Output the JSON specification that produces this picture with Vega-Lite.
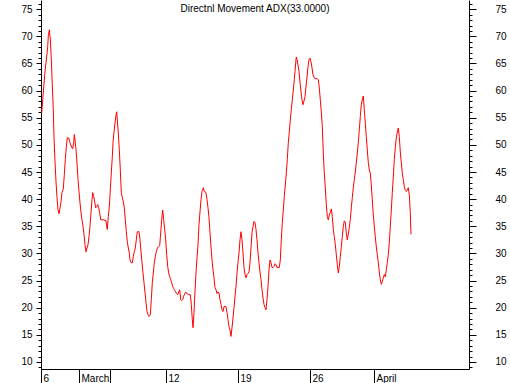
{
  "$schema": "https://vega.github.io/schema/vega-lite/v6.json",
  "width": 428,
  "height": 369,
  "autosize": {"type": "none"},
  "padding": {"left": 41, "top": 0, "right": 41, "bottom": 14},
  "background": "white",
  "config": {
    "view": {"stroke": null},
    "font": "Liberation Sans",
    "axis": {"domainColor": "black", "tickColor": "black", "labelColor": "black", "labelFont": "Liberation Sans", "labelFontSize": 10, "grid": false, "title": null, "labelOverlap": false, "labelFlush": false, "labelBound": false}
  },
  "title": {"text": "Directnl Movement ADX(33.0000)", "fontSize": 10, "fontWeight": "normal", "font": "Liberation Sans", "color": "black", "anchor": "middle", "offset": -15},
  "data": {"values": [
    {"t":0.7,"v":55.9},{"t":1.7,"v":58.3},{"t":2.7,"v":60.5},{"t":3.7,"v":62.9},{"t":4.7,"v":64.7},{"t":5.7,"v":66.2},{"t":6.7,"v":68.1},{"t":7.3,"v":70.1},{"t":8.3,"v":71.2},{"t":9.3,"v":69.5},
    {"t":10.3,"v":65.8},{"t":11.3,"v":61.1},{"t":12.3,"v":56.5},{"t":13,"v":51.5},{"t":14,"v":46.9},{"t":15,"v":43.2},{"t":16,"v":40.3},{"t":17,"v":38.0},{"t":18,"v":37.3},{"t":19,"v":38.4},
    {"t":20,"v":39.5},{"t":21,"v":41.2},{"t":22.3,"v":41.9},{"t":23.3,"v":44.5},{"t":24.3,"v":47.3},{"t":25.3,"v":49.6},{"t":26.3,"v":51.3},{"t":27.7,"v":51.3},{"t":28.7,"v":50.6},{"t":29.7,"v":50.0},
    {"t":30.7,"v":49.6},{"t":31.7,"v":49.3},{"t":32.7,"v":50.4},{"t":33.3,"v":51.9},{"t":34,"v":50.9},{"t":35,"v":49.1},{"t":36,"v":46.7},{"t":37,"v":43.6},{"t":38,"v":41.4},{"t":39,"v":39.3},
    {"t":40,"v":37.5},{"t":41,"v":36.2},{"t":42,"v":35.0},{"t":43,"v":33.5},{"t":44,"v":31.6},{"t":45,"v":30.3},{"t":46,"v":31.0},{"t":47,"v":31.6},{"t":48,"v":33.1},{"t":49,"v":35.0},
    {"t":50,"v":37.5},{"t":51,"v":39.9},{"t":51.7,"v":41.2},{"t":52.7,"v":40.5},{"t":53.7,"v":39.5},{"t":54.7,"v":38.4},{"t":55.7,"v":38.6},{"t":56.7,"v":39.0},{"t":57.7,"v":38.4},{"t":58.7,"v":37.5},
    {"t":59.7,"v":36.2},{"t":62.3,"v":36.2},{"t":65,"v":36.0},{"t":65.7,"v":35.0},{"t":66.3,"v":34.4},{"t":67.3,"v":36.8},{"t":68.3,"v":38.6},{"t":69.3,"v":41.7},{"t":70.3,"v":44.8},{"t":71.3,"v":47.8},
    {"t":72,"v":50.4},{"t":73,"v":52.4},{"t":74,"v":54.0},{"t":75,"v":55.5},{"t":75.7,"v":56.1},{"t":76.3,"v":54.6},{"t":77.3,"v":52.2},{"t":78.3,"v":49.1},{"t":79.3,"v":45.4},{"t":80.3,"v":41.2},
    {"t":81.3,"v":40.3},{"t":82.3,"v":39.5},{"t":83.3,"v":38.4},{"t":84.3,"v":36.2},{"t":85.3,"v":34.0},{"t":86.3,"v":32.2},{"t":87.3,"v":31.0},{"t":88.3,"v":30.1},{"t":89,"v":28.8},{"t":90,"v":28.3},
    {"t":91.3,"v":28.3},{"t":92.3,"v":29.4},{"t":93.3,"v":30.3},{"t":94.3,"v":31.0},{"t":95.3,"v":32.5},{"t":96.3,"v":34.0},{"t":98,"v":34.0},{"t":99,"v":32.5},{"t":100,"v":30.3},{"t":101,"v":28.3},
    {"t":102,"v":26.4},{"t":103,"v":24.6},{"t":104,"v":22.8},{"t":105,"v":20.9},{"t":106,"v":19.3},{"t":107,"v":18.7},{"t":108,"v":18.4},{"t":109.3,"v":18.7},{"t":110.3,"v":21.5},{"t":111.3,"v":24.6},
    {"t":112.3,"v":26.4},{"t":113.3,"v":28.3},{"t":114.3,"v":29.4},{"t":115.3,"v":30.3},{"t":116.3,"v":31.0},{"t":117.3,"v":31.2},{"t":118.7,"v":31.4},{"t":119.7,"v":33.8},{"t":120.7,"v":36.2},{"t":121.7,"v":38.0},
    {"t":122.7,"v":36.2},{"t":123.7,"v":34.4},{"t":124.7,"v":32.5},{"t":125.7,"v":29.8},{"t":126.7,"v":27.6},{"t":127.7,"v":26.4},{"t":128.7,"v":25.7},{"t":129.7,"v":25.2},{"t":130.7,"v":24.6},{"t":131.7,"v":23.9},
    {"t":132.7,"v":23.5},{"t":133.7,"v":23.2},{"t":134.7,"v":22.9},{"t":135.7,"v":22.6},{"t":136.7,"v":22.4},{"t":137.7,"v":22.9},{"t":138.7,"v":23.3},{"t":139.7,"v":21.5},{"t":140.7,"v":21.3},{"t":141.7,"v":21.5},
    {"t":142.7,"v":22.1},{"t":143.7,"v":22.6},{"t":144.7,"v":22.9},{"t":145.7,"v":22.6},{"t":147.7,"v":22.4},{"t":149.3,"v":22.4},{"t":150.3,"v":20.6},{"t":151.3,"v":17.8},{"t":152,"v":16.3},{"t":153,"v":19.1},
    {"t":154,"v":23.1},{"t":155,"v":26.4},{"t":156,"v":29.2},{"t":157,"v":31.6},{"t":158,"v":35.3},{"t":159,"v":37.7},{"t":160,"v":39.9},{"t":161,"v":41.4},{"t":162.3,"v":42.1},{"t":163.3,"v":41.4},
    {"t":165,"v":41.2},{"t":166,"v":39.9},{"t":167,"v":38.4},{"t":168,"v":36.6},{"t":169,"v":33.8},{"t":170,"v":31.2},{"t":171,"v":28.8},{"t":172,"v":27.0},{"t":173,"v":25.5},{"t":174,"v":23.7},
    {"t":175,"v":23.3},{"t":176,"v":22.6},{"t":177,"v":22.9},{"t":178,"v":22.7},{"t":179,"v":21.5},{"t":180,"v":20.6},{"t":181,"v":19.6},{"t":182,"v":19.3},{"t":183,"v":20.2},{"t":185,"v":20.2},
    {"t":186,"v":19.1},{"t":187,"v":17.8},{"t":188,"v":16.5},{"t":189,"v":15.9},{"t":190,"v":14.7},{"t":191,"v":16.3},{"t":192,"v":18.1},{"t":193,"v":20.0},{"t":194,"v":22.1},{"t":195,"v":23.9},
    {"t":196,"v":26.4},{"t":197,"v":28.3},{"t":198,"v":30.1},{"t":199,"v":32.5},{"t":200,"v":34.0},{"t":201,"v":32.5},{"t":202,"v":30.1},{"t":203,"v":27.4},{"t":204,"v":26.1},{"t":205,"v":25.5},
    {"t":206,"v":26.1},{"t":207,"v":26.3},{"t":208,"v":26.6},{"t":209,"v":28.3},{"t":210,"v":31.0},{"t":211,"v":33.8},{"t":212,"v":35.0},{"t":213,"v":35.9},{"t":214,"v":35.7},{"t":215,"v":34.4},
    {"t":216,"v":32.5},{"t":217,"v":30.1},{"t":218,"v":28.3},{"t":219,"v":26.6},{"t":220,"v":25.2},{"t":221,"v":23.3},{"t":222,"v":21.8},{"t":223,"v":20.6},{"t":224,"v":20.0},{"t":225,"v":19.6},
    {"t":226,"v":21.5},{"t":227,"v":23.9},{"t":228,"v":27.0},{"t":229,"v":28.8},{"t":230,"v":28.3},{"t":231,"v":27.4},{"t":232,"v":27.4},{"t":233,"v":27.6},{"t":234,"v":28.1},{"t":235,"v":27.9},
    {"t":236,"v":27.4},{"t":238.3,"v":27.4},{"t":239.3,"v":28.8},{"t":240.3,"v":32.5},{"t":241.3,"v":35.7},{"t":242.3,"v":38.0},{"t":243.3,"v":40.5},{"t":244.3,"v":42.6},{"t":245.3,"v":44.8},{"t":246.3,"v":47.3},
    {"t":247.3,"v":50.4},{"t":248.3,"v":52.4},{"t":249.3,"v":54.6},{"t":250.3,"v":56.5},{"t":251.3,"v":58.3},{"t":252.3,"v":60.1},{"t":253.3,"v":62.0},{"t":254,"v":63.5},{"t":254.7,"v":65.1},{"t":255.3,"v":66.2},
    {"t":256,"v":65.7},{"t":257,"v":64.7},{"t":258,"v":63.5},{"t":259,"v":61.6},{"t":260,"v":59.8},{"t":261,"v":58.3},{"t":262,"v":57.4},{"t":263,"v":58.1},{"t":264,"v":58.9},{"t":265,"v":60.7},
    {"t":266,"v":62.5},{"t":267,"v":64.4},{"t":268,"v":65.7},{"t":269,"v":66.0},{"t":270,"v":65.3},{"t":271,"v":64.2},{"t":272,"v":62.9},{"t":273,"v":62.5},{"t":274,"v":62.2},{"t":276.3,"v":62.2},
    {"t":277.3,"v":62.0},{"t":278.3,"v":60.5},{"t":279.3,"v":58.3},{"t":280.3,"v":56.1},{"t":281.3,"v":53.4},{"t":282.3,"v":48.5},{"t":283.3,"v":44.8},{"t":284.3,"v":42.1},{"t":285.3,"v":39.0},{"t":286.3,"v":36.8},
    {"t":287.3,"v":36.2},{"t":288.3,"v":37.1},{"t":289.3,"v":37.5},{"t":290.3,"v":38.2},{"t":291.3,"v":36.8},{"t":292.3,"v":34.4},{"t":293.3,"v":33.1},{"t":294.3,"v":31.6},{"t":295.3,"v":29.8},{"t":296.3,"v":27.9},
    {"t":297.3,"v":26.4},{"t":298.3,"v":27.6},{"t":299.3,"v":29.4},{"t":300.3,"v":31.2},{"t":301.3,"v":33.1},{"t":302.3,"v":35.0},{"t":303.3,"v":36.0},{"t":304.3,"v":35.7},{"t":305.3,"v":33.8},{"t":306.3,"v":32.5},
    {"t":307.3,"v":33.5},{"t":308.3,"v":34.8},{"t":309.3,"v":36.2},{"t":310.3,"v":38.4},{"t":311.3,"v":40.3},{"t":312.3,"v":42.1},{"t":313.3,"v":43.6},{"t":314.3,"v":45.0},{"t":315.3,"v":46.7},{"t":316.3,"v":48.5},
    {"t":317.3,"v":50.4},{"t":318.3,"v":52.8},{"t":319.3,"v":55.2},{"t":320.3,"v":57.4},{"t":321.3,"v":58.3},{"t":322.3,"v":59.0},{"t":323.3,"v":56.5},{"t":324.3,"v":54.0},{"t":325.3,"v":51.5},{"t":326.3,"v":49.1},
    {"t":327.3,"v":46.7},{"t":328.3,"v":45.4},{"t":329.3,"v":44.8},{"t":330.3,"v":42.6},{"t":331.3,"v":39.9},{"t":332.3,"v":37.1},{"t":333.3,"v":35.0},{"t":334.3,"v":33.1},{"t":335.3,"v":31.2},{"t":336.3,"v":29.8},
    {"t":337.3,"v":28.3},{"t":338.3,"v":26.6},{"t":339.3,"v":25.2},{"t":340.3,"v":24.3},{"t":341.3,"v":24.8},{"t":342.3,"v":25.5},{"t":343.3,"v":26.1},{"t":344.3,"v":25.7},{"t":345.3,"v":27.0},{"t":346.3,"v":28.3},
    {"t":347.3,"v":29.8},{"t":348.3,"v":32.0},{"t":349.3,"v":35.0},{"t":350.3,"v":38.0},{"t":351.3,"v":41.2},{"t":352.3,"v":44.1},{"t":353.3,"v":47.3},{"t":354.3,"v":49.5},{"t":355.3,"v":51.3},{"t":356.3,"v":52.4},
    {"t":357.3,"v":53.1},{"t":358.3,"v":51.5},{"t":359.3,"v":48.7},{"t":360.3,"v":46.7},{"t":361.3,"v":44.8},{"t":362.3,"v":43.6},{"t":363.3,"v":42.3},{"t":364.3,"v":41.6},{"t":365.3,"v":41.4},{"t":366.3,"v":41.7},
    {"t":367.3,"v":42.1},{"t":368.3,"v":40.8},{"t":369.3,"v":37.5},{"t":370,"v":33.5}
  ]},
  "encoding": {
    "x": {"field": "t", "type": "quantitative", "scale": {"domain": [0, 428], "nice": false, "zero": false},
      "axis": {"orient": "bottom", "values": [0, 38, 69, 125, 197, 269, 333], "tickSize": 14, "labelAlign": "left", "labelBaseline": "middle", "labelOffset": 2, "labelPadding": -5,
        "labelExpr": "datum.value == 0 ? '6' : datum.value == 38 ? 'March' : datum.value == 125 ? '12' : datum.value == 197 ? '19' : datum.value == 269 ? '26' : datum.value == 333 ? 'April' : ''"}}
  },
  "layer": [
    {
      "mark": {"type": "line", "color": "#ff0000", "strokeWidth": 1},
      "encoding": {
        "y": {"field": "v", "type": "quantitative", "scale": {"domain": [8.7, 76.7], "nice": false, "zero": false},
          "axis": {"orient": "left", "values": [9,10,11,12,13,14,15,16,17,18,19,20,21,22,23,24,25,26,27,28,29,30,31,32,33,34,35,36,37,38,39,40,41,42,43,44,45,46,47,48,49,50,51,52,53,54,55,56,57,58,59,60,61,62,63,64,65,66,67,68,69,70,71,72,73,74,75,76],
            "tickSize": {"condition": {"test": "datum.value % 5 === 0", "value": 5}, "value": 3}, "labelPadding": 4, "labelBaseline": "middle",
            "labelExpr": "datum.value % 5 === 0 ? datum.label : ''"}}
      }
    },
    {
      "mark": {"type": "line", "strokeOpacity": 0},
      "encoding": {
        "y": {"field": "v", "type": "quantitative",
          "axis": {"orient": "right", "values": [9,10,11,12,13,14,15,16,17,18,19,20,21,22,23,24,25,26,27,28,29,30,31,32,33,34,35,36,37,38,39,40,41,42,43,44,45,46,47,48,49,50,51,52,53,54,55,56,57,58,59,60,61,62,63,64,65,66,67,68,69,70,71,72,73,74,75,76],
            "tickSize": {"condition": {"test": "datum.value % 5 === 0", "value": 7}, "value": 3}, "labelPadding": 30, "labelAlign": "right", "labelBaseline": "middle",
            "labelExpr": "datum.value % 5 === 0 ? datum.label : ''"}}
      }
    }
  ],
  "resolve": {"axis": {"y": "independent"}}
}
